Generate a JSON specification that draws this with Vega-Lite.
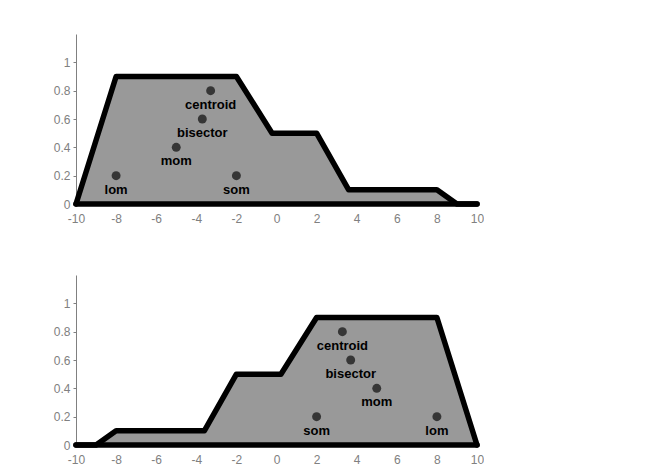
{
  "$schema": "https://vega.github.io/schema/vega-lite/v6.json",
  "padding": {"left": 53, "top": 28, "right": 0, "bottom": 0},
  "background": "white",
  "spacing": 45,
  "datasets": {
    "outline": [
      {"panel": "top", "x": -10, "y": 0},
      {"panel": "top", "x": -8, "y": 0.9},
      {"panel": "top", "x": -2, "y": 0.9},
      {"panel": "top", "x": -0.22, "y": 0.5},
      {"panel": "top", "x": 2, "y": 0.5},
      {"panel": "top", "x": 3.6, "y": 0.1},
      {"panel": "top", "x": 8, "y": 0.1},
      {"panel": "top", "x": 9, "y": 0},
      {"panel": "top", "x": 10, "y": 0},
      {"panel": "bottom", "x": -10, "y": 0},
      {"panel": "bottom", "x": -9, "y": 0},
      {"panel": "bottom", "x": -8, "y": 0.1},
      {"panel": "bottom", "x": -3.6, "y": 0.1},
      {"panel": "bottom", "x": -2, "y": 0.5},
      {"panel": "bottom", "x": 0.22, "y": 0.5},
      {"panel": "bottom", "x": 2, "y": 0.9},
      {"panel": "bottom", "x": 8, "y": 0.9},
      {"panel": "bottom", "x": 10, "y": 0}
    ],
    "base": [
      {"x": -10, "x2": 10, "y": 0}
    ],
    "points": [
      {"panel": "top", "x": -3.2857, "y": 0.8, "label": "centroid"},
      {"panel": "top", "x": -3.7, "y": 0.6, "label": "bisector"},
      {"panel": "top", "x": -5, "y": 0.4, "label": "mom"},
      {"panel": "top", "x": -8, "y": 0.2, "label": "lom"},
      {"panel": "top", "x": -2, "y": 0.2, "label": "som"},
      {"panel": "bottom", "x": 3.2857, "y": 0.8, "label": "centroid"},
      {"panel": "bottom", "x": 3.7, "y": 0.6, "label": "bisector"},
      {"panel": "bottom", "x": 5, "y": 0.4, "label": "mom"},
      {"panel": "bottom", "x": 8, "y": 0.2, "label": "lom"},
      {"panel": "bottom", "x": 2, "y": 0.2, "label": "som"}
    ]
  },
  "vconcat": [
    {
      "width": 401,
      "height": 170,
      "view": {"stroke": null},
      "layer": [
        {
          "data": {"name": "outline"},
          "transform": [{"filter": "datum.panel === 'top'"}],
          "mark": {"type": "area", "color": "#999999", "opacity": 1},
          "encoding": {
            "x": {"field": "x", "type": "quantitative", "scale": {"domain": [-10, 10], "nice": false}, "axis": {"values": [-10, -8, -6, -4, -2, 0, 2, 4, 6, 8, 10], "labelExpr": "'' + datum.value", "labelOverlap": false}},
            "y": {"field": "y", "type": "quantitative", "scale": {"domain": [0, 1.2], "nice": false}, "axis": {"tickCount": 6, "labelExpr": "datum.value > 1.1 ? '' : '' + round(datum.value * 10) / 10", "labelOverlap": false, "tickOpacity": {"condition": {"test": "datum.value > 1.1", "value": 0}, "value": 1}}}
          }
        },
        {
          "data": {"name": "outline"},
          "transform": [{"filter": "datum.panel === 'top'"}],
          "mark": {"type": "line", "color": "black", "strokeWidth": 5.5, "strokeJoin": "round", "strokeCap": "round"},
          "encoding": {
            "x": {"field": "x", "type": "quantitative"},
            "y": {"field": "y", "type": "quantitative"}
          }
        },
        {
          "data": {"name": "base"},
          "mark": {"type": "rule", "color": "black", "strokeWidth": 5.5, "strokeCap": "round"},
          "encoding": {
            "x": {"field": "x", "type": "quantitative"},
            "x2": {"field": "x2"},
            "y": {"field": "y", "type": "quantitative"}
          }
        },
        {
          "data": {"name": "points"},
          "transform": [{"filter": "datum.panel === 'top'"}],
          "mark": {"type": "circle", "color": "#363636", "opacity": 1, "size": 80},
          "encoding": {
            "x": {"field": "x", "type": "quantitative"},
            "y": {"field": "y", "type": "quantitative"}
          }
        },
        {
          "data": {"name": "points"},
          "transform": [{"filter": "datum.panel === 'top'"}],
          "mark": {"type": "text", "color": "black", "fontWeight": "bold", "fontSize": 13, "font": "Liberation Sans", "baseline": "middle", "align": "center", "dy": 14},
          "encoding": {
            "x": {"field": "x", "type": "quantitative"},
            "y": {"field": "y", "type": "quantitative"},
            "text": {"field": "label"}
          }
        }
      ]
    },
    {
      "width": 401,
      "height": 170,
      "view": {"stroke": null},
      "layer": [
        {
          "data": {"name": "outline"},
          "transform": [{"filter": "datum.panel === 'bottom'"}],
          "mark": {"type": "area", "color": "#999999", "opacity": 1},
          "encoding": {
            "x": {"field": "x", "type": "quantitative", "scale": {"domain": [-10, 10], "nice": false}, "axis": {"values": [-10, -8, -6, -4, -2, 0, 2, 4, 6, 8, 10], "labelExpr": "'' + datum.value", "labelOverlap": false}},
            "y": {"field": "y", "type": "quantitative", "scale": {"domain": [0, 1.2], "nice": false}, "axis": {"tickCount": 6, "labelExpr": "datum.value > 1.1 ? '' : '' + round(datum.value * 10) / 10", "labelOverlap": false, "tickOpacity": {"condition": {"test": "datum.value > 1.1", "value": 0}, "value": 1}}}
          }
        },
        {
          "data": {"name": "outline"},
          "transform": [{"filter": "datum.panel === 'bottom'"}],
          "mark": {"type": "line", "color": "black", "strokeWidth": 5.5, "strokeJoin": "round", "strokeCap": "round"},
          "encoding": {
            "x": {"field": "x", "type": "quantitative"},
            "y": {"field": "y", "type": "quantitative"}
          }
        },
        {
          "data": {"name": "base"},
          "mark": {"type": "rule", "color": "black", "strokeWidth": 5.5, "strokeCap": "round"},
          "encoding": {
            "x": {"field": "x", "type": "quantitative"},
            "x2": {"field": "x2"},
            "y": {"field": "y", "type": "quantitative"}
          }
        },
        {
          "data": {"name": "points"},
          "transform": [{"filter": "datum.panel === 'bottom'"}],
          "mark": {"type": "circle", "color": "#363636", "opacity": 1, "size": 80},
          "encoding": {
            "x": {"field": "x", "type": "quantitative"},
            "y": {"field": "y", "type": "quantitative"}
          }
        },
        {
          "data": {"name": "points"},
          "transform": [{"filter": "datum.panel === 'bottom'"}],
          "mark": {"type": "text", "color": "black", "fontWeight": "bold", "fontSize": 13, "font": "Liberation Sans", "baseline": "middle", "align": "center", "dy": 14},
          "encoding": {
            "x": {"field": "x", "type": "quantitative"},
            "y": {"field": "y", "type": "quantitative"},
            "text": {"field": "label"}
          }
        }
      ]
    }
  ],
  "config": {
    "axisX": {
      "title": null,
      "grid": false,
      "domain": false,
      "ticks": false,
      "labelPadding": 9,
      "labelFont": "Liberation Sans",
      "labelFontSize": 12,
      "labelColor": "#808080",
      "labelFlush": false
    },
    "axisY": {
      "title": null,
      "grid": false,
      "domainColor": "#808080",
      "domainWidth": 1,
      "tickColor": "#808080",
      "tickSize": 3,
      "labelPadding": 3,
      "labelFont": "Liberation Sans",
      "labelFontSize": 12,
      "labelColor": "#808080",
      "labelFlush": false
    }
  }
}
